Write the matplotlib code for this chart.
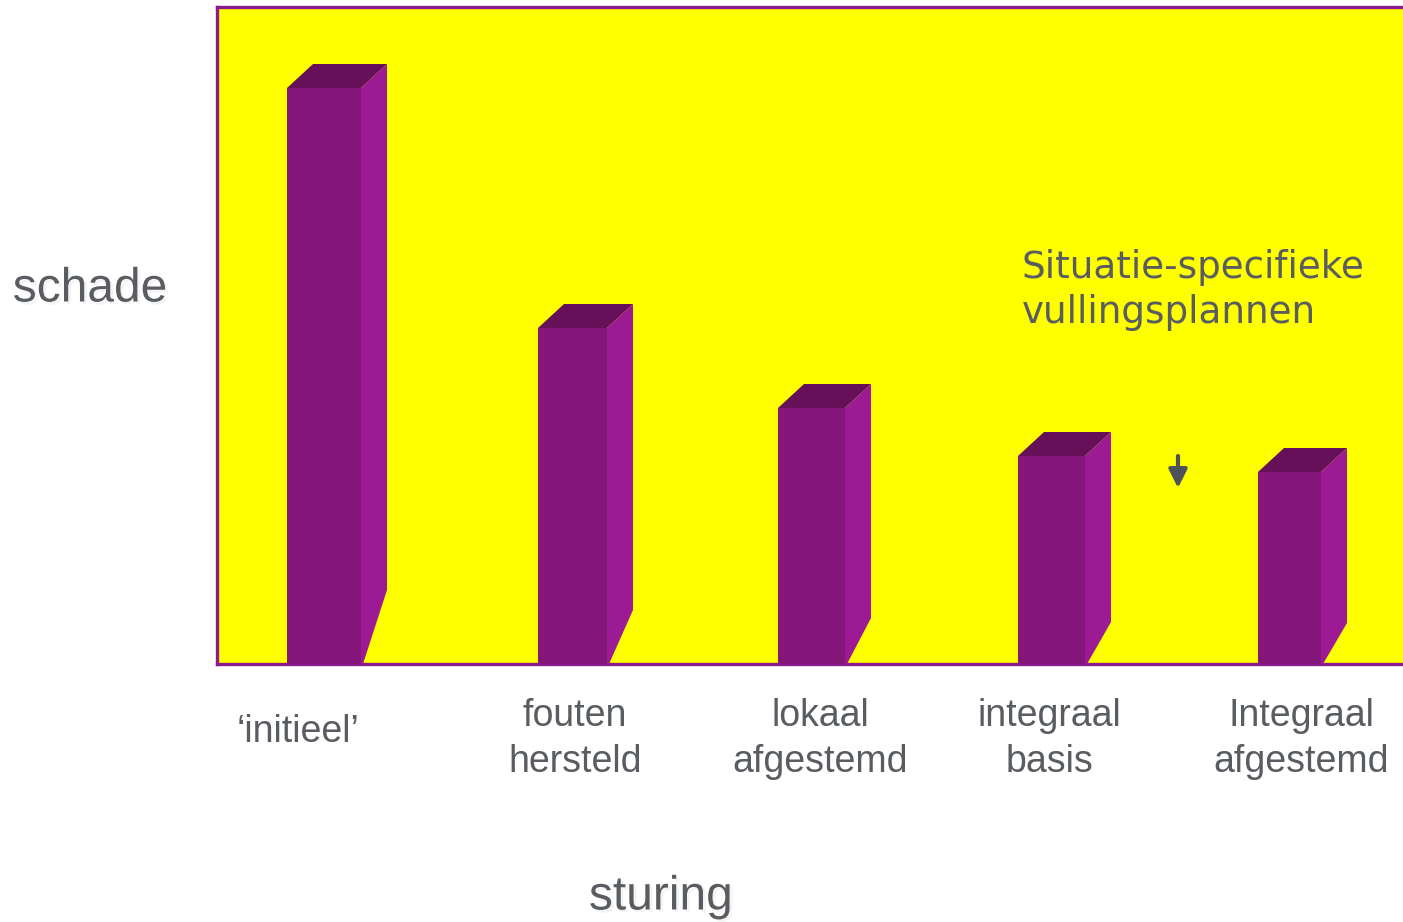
import matplotlib
matplotlib.use("Agg")
import matplotlib.pyplot as plt
from matplotlib.patches import Polygon
import matplotlib.patheffects as pe

# data (schade per sturing-niveau, in pixel-like units)
categories = ["\u2018initieel\u2019", "fouten\nhersteld", "lokaal\nafgestemd",
              "integraal\nbasis", "Integraal\nafgestemd"]
schade = [576, 336, 256, 208, 192]

# layout of the pseudo-3D bars (pixels)
bar_left = [70, 321, 561, 801, 1041]
bar_width = [74, 69, 67, 67, 63]
side_bottom = [74, 54, 46, 42, 41]   # where the slanted side face ends at the back
label_x = [81, 358, 603, 832, 1084]
depth_x, depth_y = 26, 24

front_col = "#86177a"
side_col = "#9c1a93"
top_col = "#66105a"
border_col = "#8b1a8b"
text_col = "#595c60"

fig = plt.figure(figsize=(14.03, 9.22), dpi=100)
ax = fig.add_axes([217 / 1403, 258 / 922, 1.0, 657 / 922])
ax.set_facecolor("#ffff00")
ax.set_xlim(0, 1403)
ax.set_ylim(0, 657)
ax.set_xticks([])
ax.set_yticks([])
for s in ax.spines.values():
    s.set_color(border_col)
    s.set_linewidth(2.4)

ax.bar(bar_left, schade, width=bar_width, align="edge", color=front_col,
       linewidth=0, zorder=3)

for x0, w, h, sb in zip(bar_left, bar_width, schade, side_bottom):
    x1 = x0 + w
    top = Polygon([(x0, h), (x1, h), (x1 + depth_x, h + depth_y),
                   (x0 + depth_x, h + depth_y)], closed=True,
                  facecolor=top_col, edgecolor="none", zorder=3)
    side = Polygon([(x1, 0), (x1, h), (x1 + depth_x, h + depth_y),
                    (x1 + depth_x, sb), (x1 + 2, 0)], closed=True,
                   facecolor=side_col, edgecolor="none", zorder=3)
    ax.add_patch(top)
    ax.add_patch(side)

for lx, lab in zip(label_x, categories):
    ax.text(lx, -75 if "\n" in lab else -68, lab, ha="center", va="center",
            fontsize=27, color=text_col, family="Liberation Sans",
            linespacing=1.33, clip_on=False)

ax.text(805, 374, "Situatie-specifieke\nvullingsplannen", ha="left", va="center",
        fontsize=26.8, color=text_col, family="DejaVu Sans", linespacing=1.3)

# small arrow
ax.annotate("", xy=(961, 176), xytext=(961, 208),
            arrowprops=dict(arrowstyle="-|>,head_width=0.55,head_length=1.1",
                            color="#4d5358", lw=3, shrinkA=0, shrinkB=0))

shadow = [pe.withSimplePatchShadow(offset=(2, -2), shadow_rgbFace="#bbbbbb", alpha=0.15)]
fig.text(90 / 1403, 1 - 289 / 922, "schade", ha="center", va="center",
         fontsize=34.5, color=text_col, family="Liberation Sans", path_effects=shadow)
fig.text(661 / 1403, 1 - 897 / 922, "sturing", ha="center", va="center",
         fontsize=34.5, color=text_col, family="Liberation Sans", path_effects=shadow)

fig.savefig("out.png", dpi=100, facecolor="white")
